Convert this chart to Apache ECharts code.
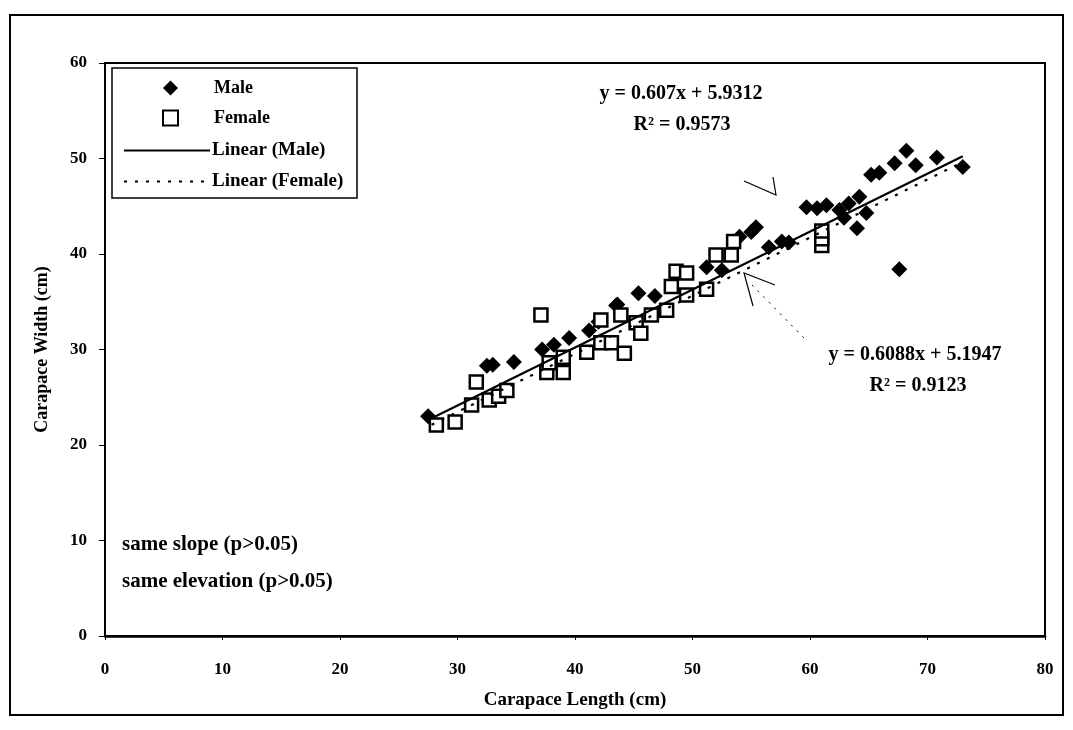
<!DOCTYPE html>
<html>
<head>
<meta charset="utf-8">
<script src="https://cdn.jsdelivr.net/npm/echarts@6/dist/echarts.min.js"></script>
<style>
  html, body { margin: 0; padding: 0; background: #fff; }
  #chart { width: 1073px; height: 730px; }
</style>
</head>
<body>
<div id="chart"></div>
<script>
// carapace length / width readings (cm)
const maleLength = [27.5, 32.5, 33.0, 34.8, 37.2, 38.2, 39.5, 41.2, 42.0, 43.5, 43.6, 45.4, 46.8, 51.2, 52.5,
  54.0, 55.0, 55.4, 56.5, 57.6, 58.2, 59.7, 60.6, 61.4, 62.5, 62.9, 63.3, 64.0, 64.2, 64.8, 65.2, 65.9, 67.2,
  67.6, 68.2, 69.0, 70.8, 73.0];
const maleWidth = [23.0, 28.3, 28.4, 28.7, 30.0, 30.5, 31.2, 32.0, 32.9, 34.6, 34.7, 35.9, 35.6, 38.6, 38.3,
  41.8, 42.3, 42.8, 40.7, 41.3, 41.2, 44.9, 44.8, 45.1, 44.6, 43.8, 45.3, 42.7, 46.0, 44.3, 48.3, 48.5, 49.5,
  38.4, 50.8, 49.3, 50.1, 49.1];

const femaleLength = [28.2, 29.8, 31.2, 31.6, 32.7, 33.5, 34.2, 37.1, 37.6, 37.8, 39.0, 39.0, 41.0, 42.2, 42.2,
  43.1, 43.9, 44.2, 45.2, 45.6, 46.5, 47.8, 48.2, 48.6, 49.5, 49.5, 51.2, 52.0, 53.3, 53.5, 61.0, 61.0, 61.0];
const femaleWidth = [22.1, 22.4, 24.2, 26.6, 24.7, 25.1, 25.7, 33.6, 27.6, 28.6, 27.6, 29.2, 29.7, 33.1, 30.7,
  30.7, 33.6, 29.6, 32.8, 31.7, 33.6, 34.1, 36.6, 38.2, 38.0, 35.7, 36.3, 39.9, 39.9, 41.3, 40.9, 41.6, 42.4];

// trendline end points (y = 0.607x + 5.9312 and y = 0.6088x + 5.1947)
const maleFit = [[27.5, 22.62], [73.0, 50.24]];
const femaleFit = [[27.8, 22.12], [72.5, 49.33]];

const xTicks = [0, 10, 20, 30, 40, 50, 60, 70, 80];
const yTicks = [0, 10, 20, 30, 40, 50, 60];

const serif = "Liberation Serif";
const chart = echarts.init(document.getElementById("chart"));

const pairs = (xs, ys) => xs.map((x, i) => [x, ys[i]]);
const label = (text, x, y, align, size) => ({
  type: "text", x: x, y: y, silent: true,
  style: { text: text, font: "bold " + (size || 20) + "px " + serif, fill: "#000",
    textAlign: align || "center", textVerticalAlign: "middle" }
});

chart.setOption({
  animation: false,
  backgroundColor: "#fff",
  grid: {
    left: 105, right: 28, top: 63, bottom: 94,
    show: true, borderColor: "#000", borderWidth: 2
  },
  xAxis: {
    type: "value", min: xTicks[0], max: xTicks[xTicks.length - 1], interval: 10,
    name: "Carapace Length (cm)", nameLocation: "middle", nameGap: 55,
    nameTextStyle: { fontFamily: serif, fontWeight: "bold", fontSize: 19, color: "#000" },
    axisLine: { lineStyle: { color: "#000", width: 2.5 } },
    axisTick: { show: true, length: 4, lineStyle: { color: "#000" } },
    axisLabel: { fontFamily: serif, fontWeight: "bold", fontSize: 17, color: "#000", margin: 25 },
    splitLine: { show: false }
  },
  yAxis: {
    type: "value", min: yTicks[0], max: yTicks[yTicks.length - 1], interval: 10,
    name: "Carapace Width (cm)", nameLocation: "middle", nameGap: 54,
    nameTextStyle: { fontFamily: serif, fontWeight: "bold", fontSize: 18, color: "#000" },
    axisLine: { lineStyle: { color: "#000", width: 2 } },
    axisTick: { show: true, length: 6, lineStyle: { color: "#000" } },
    axisLabel: { fontFamily: serif, fontWeight: "bold", fontSize: 17, color: "#000", margin: 18 },
    splitLine: { show: false }
  },
  legend: [
    {
      data: ["Male", "Female"], orient: "vertical", left: 157, top: 74,
      itemWidth: 15, itemHeight: 15, itemGap: 12,
      textStyle: { fontFamily: serif, fontWeight: "bold", fontSize: 18, color: "#000", padding: [0, 0, 0, 31] }
    },
    {
      data: ["Linear (Male)", "Linear (Female)"], orient: "vertical", left: 118, top: 136,
      itemWidth: 86, itemHeight: 14, itemGap: 12,
      textStyle: { fontFamily: serif, fontWeight: "bold", fontSize: 19, color: "#000", padding: [0, 0, 0, -3] }
    }
  ],
  graphic: [
    // outer frame
    { type: "rect", shape: { x: 10, y: 15, width: 1053, height: 700 },
      style: { fill: "none", stroke: "#000", lineWidth: 2 }, silent: true },
    // legend box
    { type: "rect", shape: { x: 112, y: 68, width: 245, height: 130 },
      style: { fill: "none", stroke: "#000", lineWidth: 1.5 }, silent: true },
    label("y = 0.607x + 5.9312", 681, 94),
    label("R² = 0.9573", 682, 125),
    label("y = 0.6088x + 5.1947", 915, 355),
    label("R² = 0.9123", 918, 386),
    label("same slope (p>0.05)", 122, 545, "left", 21),
    label("same elevation (p>0.05)", 122, 582, "left", 21),
    // arrows to the fitted lines
    { type: "polyline", shape: { points: [[744, 181], [776, 195], [773, 177]] },
      style: { fill: "none", stroke: "#000", lineWidth: 1.2 }, silent: true },
    { type: "polyline", shape: { points: [[775, 285], [744, 273], [753, 306]] },
      style: { fill: "none", stroke: "#000", lineWidth: 1.2 }, silent: true },
    { type: "line", shape: { x1: 752, y1: 285, x2: 806, y2: 340 },
      style: { stroke: "#000", lineWidth: 1, lineDash: [2, 6] }, silent: true }
  ],
  series: [
    {
      name: "Male", type: "scatter", symbol: "diamond", symbolSize: 16,
      itemStyle: { color: "#000", opacity: 1 },
      data: pairs(maleLength, maleWidth)
    },
    {
      name: "Female", type: "scatter", symbol: "rect", symbolSize: 13,
      itemStyle: { color: "#fff", borderColor: "#000", borderWidth: 2.5, opacity: 1 },
      data: pairs(femaleLength, femaleWidth)
    },
    {
      name: "Linear (Male)", type: "line", symbol: "none",
      itemStyle: { color: "#000", opacity: 0 },
      lineStyle: { color: "#000", width: 2.2, opacity: 1 },
      data: maleFit
    },
    {
      name: "Linear (Female)", type: "line", symbol: "none",
      itemStyle: { color: "#000", opacity: 0 },
      lineStyle: { color: "#000", width: 2.2, type: [3, 8], opacity: 1 },
      data: femaleFit
    }
  ]
});
</script>
</body>
</html>
